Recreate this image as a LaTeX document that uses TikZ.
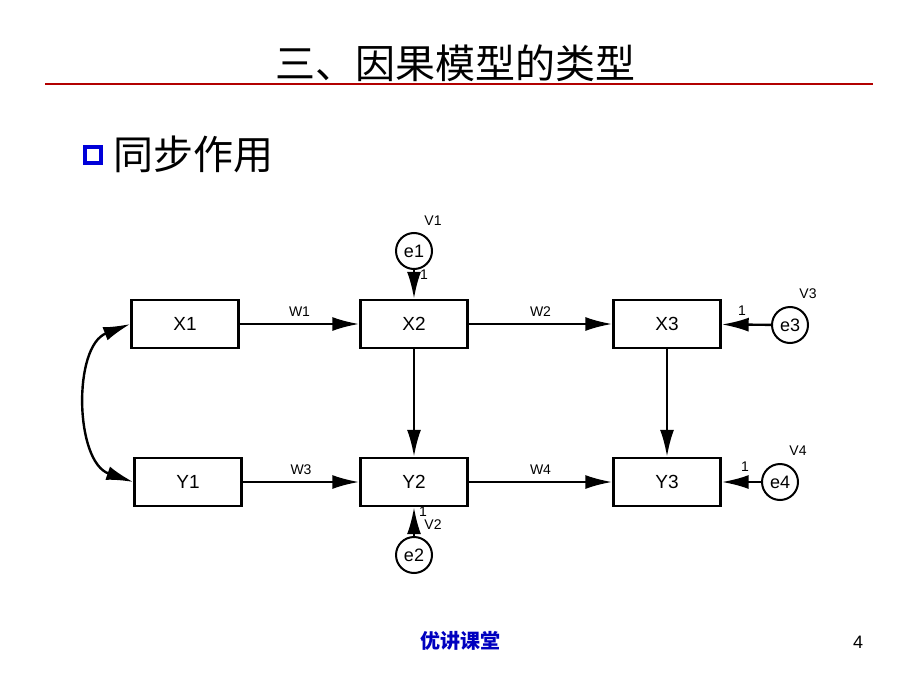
\documentclass[tikz,border=0pt]{standalone}
\usepackage{fontspec}
\setmainfont{Liberation Sans}
\newfontfamily\cjk{Noto Sans CJK SC}
\usetikzlibrary{arrows.meta}
\begin{document}
\begin{tikzpicture}[x=1pt,y=-1pt,
        var/.style={rectangle,draw,line width=2.4pt,minimum width=107pt,minimum height=48pt,font=\fontsize{19}{19}\selectfont},
        err/.style={circle,draw,line width=2pt,minimum size=36pt,inner sep=0pt,font=\fontsize{18}{18}\selectfont},
        lbl/.style={font=\fontsize{14}{14}\selectfont,inner sep=0pt},
        path/.style={line width=2.4pt,-{Latex[length=27pt,width=14pt]}}]
        \useasboundingbox (0,0) rectangle (920,690);
        % Heading
        \node[font=\cjk\fontsize{40}{40}\selectfont] (title) at (455,63) {三、因果模型的类型};
        \draw[red!70!black,line width=2pt] (45,84) -- (873,84);
        \node[draw=blue!85!black,line width=4pt,minimum size=16pt,inner sep=0pt] (bullet) at (93,155) {};
        \node[font=\cjk\fontsize{40}{40}\selectfont,anchor=west] (sub) at (110,154) {同步作用};
        % Observed variables
        \node[var] (x1) at (185,324) {X1};
        \node[var] (x2) at (414,324) {X2};
        \node[var] (x3) at (667,324) {X3};
        \node[var] (y1) at (188,482) {Y1};
        \node[var] (y2) at (414,482) {Y2};
        \node[var] (y3) at (667,482) {Y3};
        % Error terms
        \node[err] (e1) at (414,251) {e1};
        \node[err] (e2) at (414,555) {e2};
        \node[err] (e3) at (790,325) {e3};
        \node[err] (e4) at (780,482) {e4};
        % Paths
        \draw[path] (x1) -- node[lbl,above=6pt] (w1) {W1} (x2);
        \draw[path] (x2) -- node[lbl,above=6pt] (w2) {W2} (x3);
        \draw[path] (y1) -- node[lbl,above=6pt] (w3) {W3} (y2);
        \draw[path] (y2) -- node[lbl,above=6pt] (w4) {W4} (y3);
        \draw[path] (x2) -- (y2);
        \draw[path] (x3) -- (y3);
        \draw[path] (e1) -- (x2);
        \draw[path] (e2) -- (y2);
        \draw[path] (e3) -- (x3);
        \draw[path] (e4) -- (y3);
        \draw[line width=2.4pt,{Latex[length=27pt,width=14pt]}-{Latex[length=27pt,width=14pt]}] (x1.west) to[bend right=70] (y1.west);
        % Parameter labels
        \node[lbl] (one1) at (424,275) {1};
        \node[lbl] (one2) at (423,512) {1};
        \node[lbl] (one3) at (742,311) {1};
        \node[lbl] (one4) at (745,467) {1};
        \node[lbl] (v1) at (433,221) {V1};
        \node[lbl] (v2) at (433,525) {V2};
        \node[lbl] (v3) at (808,294) {V3};
        \node[lbl] (v4) at (798,451) {V4};
        % Footer
        \node[font=\cjk\bfseries\fontsize{20}{20}\selectfont,text=blue!75!black] (foot) at (460,641) {优讲课堂};
        \node[font=\fontsize{18}{18}\selectfont] (page) at (858,642) {4};
\end{tikzpicture}
\end{document}
